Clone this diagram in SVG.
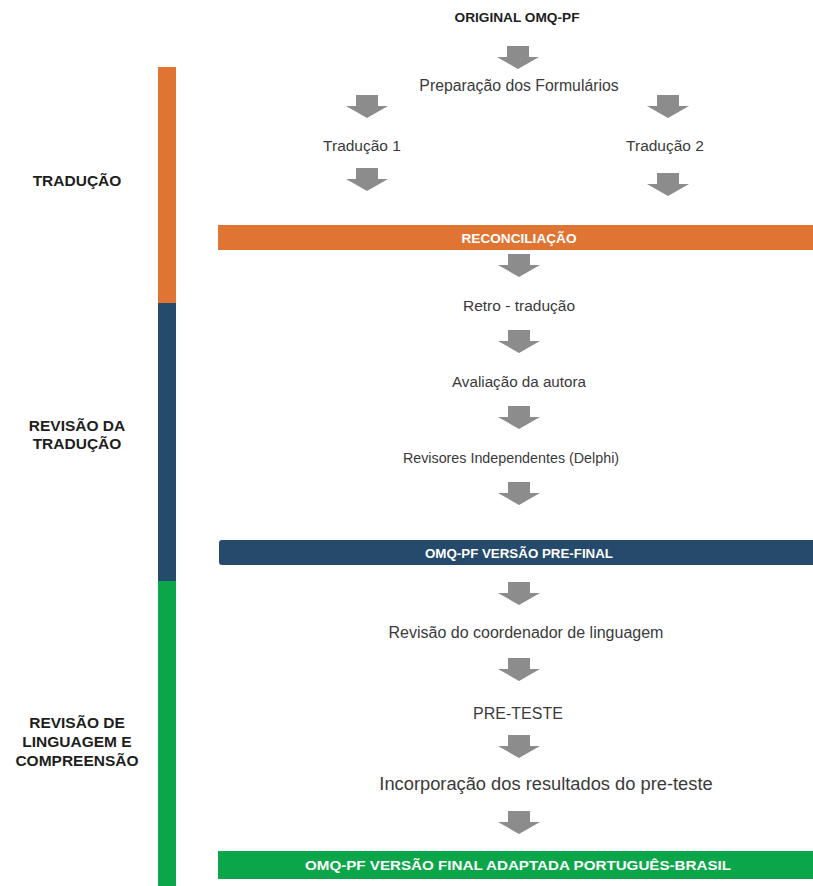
<svg xmlns="http://www.w3.org/2000/svg" xmlns:xlink="http://www.w3.org/1999/xlink" width="813" height="886" viewBox="0 0 813 886">
<style>
.t{font-family:"Liberation Sans",Arial,sans-serif;fill:#3a3a3a;text-anchor:middle;dominant-baseline:central}
.b{font-family:"Liberation Sans",Arial,sans-serif;font-weight:bold;fill:#1e1e1e;text-anchor:middle;dominant-baseline:central}
.w{font-family:"Liberation Sans",Arial,sans-serif;font-weight:bold;fill:#ffffff;text-anchor:middle;dominant-baseline:central;font-size:13.5px}
.arr{fill:#8c8c8c}
</style>
<defs>
<path id="arrow" d="M-11,0 H11 V11 H21 L0,23 L-21,11 H-11 Z"/>
</defs>
<rect width="813" height="886" fill="#ffffff"/>

<g id="sidebar">
<rect x="158" y="67" width="18" height="236" fill="#E07533"/>
<rect x="158" y="303" width="18" height="278" fill="#254A6C"/>
<rect x="158" y="581" width="18" height="305" fill="#0BA64A"/>
</g>

<g id="phase-traducao">
<text class="b" x="77" y="180" font-size="15.5">TRADUÇÃO</text>
</g>
<g id="phase-revisao-traducao">
<text class="b" x="77" y="425" font-size="15.5">REVISÃO DA</text>
<text class="b" x="77" y="443" font-size="15.5">TRADUÇÃO</text>
</g>
<g id="phase-revisao-linguagem">
<text class="b" x="77" y="722" font-size="15.5">REVISÃO DE</text>
<text class="b" x="77" y="741" font-size="15.5">LINGUAGEM E</text>
<text class="b" x="77" y="760" font-size="15.5">COMPREENSÃO</text>
</g>

<g id="original">
<text class="b" x="517" y="17" font-size="13" textLength="125" lengthAdjust="spacingAndGlyphs">ORIGINAL OMQ-PF</text>
</g>
<g id="preparacao">
<text class="t" x="519" y="85" font-size="15.8">Preparação dos Formulários</text>
</g>
<g id="traducao1">
<text class="t" x="362" y="145" font-size="15.5">Tradução 1</text>
</g>
<g id="traducao2">
<text class="t" x="665" y="145" font-size="15.5">Tradução 2</text>
</g>
<g id="reconciliacao">
<rect x="218" y="225" width="595" height="25" fill="#E07533"/>
<text class="w" x="519" y="238" textLength="115" lengthAdjust="spacingAndGlyphs">RECONCILIAÇÃO</text>
</g>
<g id="retro">
<text class="t" x="519" y="305" font-size="15.5">Retro - tradução</text>
</g>
<g id="avaliacao">
<text class="t" x="519" y="381" font-size="15.2">Avaliação da autora</text>
</g>
<g id="revisores">
<text class="t" x="511" y="458" font-size="14.3">Revisores Independentes (Delphi)</text>
</g>
<g id="prefinal">
<rect x="219" y="540" width="600" height="25" rx="3" fill="#254A6C"/>
<text class="w" x="519" y="553" textLength="188" lengthAdjust="spacingAndGlyphs">OMQ-PF VERSÃO PRE-FINAL</text>
</g>
<g id="revisao-coordenador">
<text class="t" x="526" y="632" font-size="16">Revisão do coordenador de linguagem</text>
</g>
<g id="pre-teste">
<text class="t" x="518" y="713" font-size="16">PRE-TESTE</text>
</g>
<g id="incorporacao">
<text class="t" x="546" y="783" font-size="18.3">Incorporação dos resultados do pre-teste</text>
</g>
<g id="final">
<rect x="218" y="851" width="595" height="28" fill="#0BA64A"/>
<text class="w" x="518" y="865" font-size="14.5" textLength="426" lengthAdjust="spacingAndGlyphs">OMQ-PF VERSÃO FINAL ADAPTADA PORTUGUÊS-BRASIL</text>
</g>

<g id="connectors" class="arr">
<use xlink:href="#arrow" x="518" y="46"/>
<use xlink:href="#arrow" x="367" y="95"/>
<use xlink:href="#arrow" x="668" y="95"/>
<use xlink:href="#arrow" x="367" y="168"/>
<use xlink:href="#arrow" x="668" y="173"/>
<use xlink:href="#arrow" x="519" y="254"/>
<use xlink:href="#arrow" x="519" y="330"/>
<use xlink:href="#arrow" x="519" y="406"/>
<use xlink:href="#arrow" x="519" y="482"/>
<use xlink:href="#arrow" x="519" y="582"/>
<use xlink:href="#arrow" x="519" y="658"/>
<use xlink:href="#arrow" x="519" y="735"/>
<use xlink:href="#arrow" x="519" y="811"/>
</g>
</svg>
